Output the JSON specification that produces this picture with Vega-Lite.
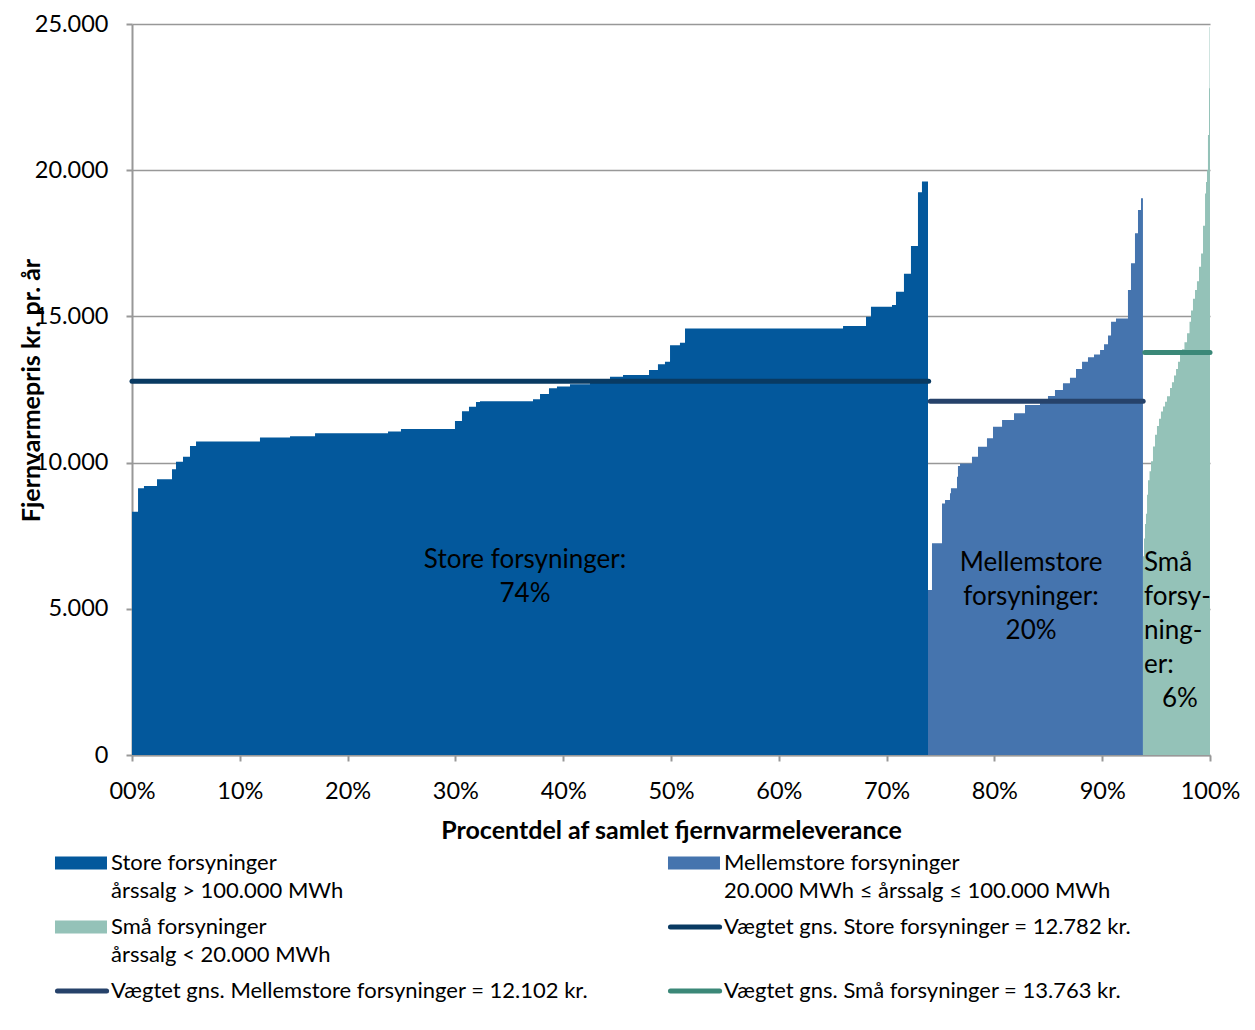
{
  "$schema": "https://vega.github.io/schema/vega-lite/v6.json",
  "width": 1078,
  "height": 731,
  "autosize": {"type": "none"},
  "padding": {"left": 132, "top": 24, "right": 45, "bottom": 275},
  "background": "white",
  "config": {
    "font": "Lato",
    "view": {"stroke": null},
    "text": {"lineBreak": "\n"}
  },
  "datasets": {
    "steps": [
      {"serie": "Store forsyninger|årssalg > 100.000 MWh", "x": 0, "y": 8320},
      {"serie": "Store forsyninger|årssalg > 100.000 MWh", "x": 0.56, "y": 9120},
      {"serie": "Store forsyninger|årssalg > 100.000 MWh", "x": 1.11, "y": 9200},
      {"serie": "Store forsyninger|årssalg > 100.000 MWh", "x": 2.32, "y": 9430},
      {"serie": "Store forsyninger|årssalg > 100.000 MWh", "x": 3.71, "y": 9770},
      {"serie": "Store forsyninger|årssalg > 100.000 MWh", "x": 4.08, "y": 10030},
      {"serie": "Store forsyninger|årssalg > 100.000 MWh", "x": 4.73, "y": 10200},
      {"serie": "Store forsyninger|årssalg > 100.000 MWh", "x": 5.38, "y": 10570},
      {"serie": "Store forsyninger|årssalg > 100.000 MWh", "x": 5.94, "y": 10720},
      {"serie": "Store forsyninger|årssalg > 100.000 MWh", "x": 11.87, "y": 10860},
      {"serie": "Store forsyninger|årssalg > 100.000 MWh", "x": 14.66, "y": 10900},
      {"serie": "Store forsyninger|årssalg > 100.000 MWh", "x": 16.98, "y": 11000},
      {"serie": "Store forsyninger|årssalg > 100.000 MWh", "x": 23.75, "y": 11060},
      {"serie": "Store forsyninger|årssalg > 100.000 MWh", "x": 24.95, "y": 11150},
      {"serie": "Store forsyninger|årssalg > 100.000 MWh", "x": 29.96, "y": 11420},
      {"serie": "Store forsyninger|årssalg > 100.000 MWh", "x": 30.61, "y": 11760},
      {"serie": "Store forsyninger|årssalg > 100.000 MWh", "x": 31.26, "y": 11910},
      {"serie": "Store forsyninger|årssalg > 100.000 MWh", "x": 31.91, "y": 12070},
      {"serie": "Store forsyninger|årssalg > 100.000 MWh", "x": 32.28, "y": 12100},
      {"serie": "Store forsyninger|årssalg > 100.000 MWh", "x": 37.2, "y": 12170},
      {"serie": "Store forsyninger|årssalg > 100.000 MWh", "x": 37.85, "y": 12350},
      {"serie": "Store forsyninger|årssalg > 100.000 MWh", "x": 38.68, "y": 12540},
      {"serie": "Store forsyninger|årssalg > 100.000 MWh", "x": 39.42, "y": 12600},
      {"serie": "Store forsyninger|årssalg > 100.000 MWh", "x": 40.63, "y": 12680},
      {"serie": "Store forsyninger|årssalg > 100.000 MWh", "x": 42.49, "y": 12740},
      {"serie": "Store forsyninger|årssalg > 100.000 MWh", "x": 44.34, "y": 12940},
      {"serie": "Store forsyninger|årssalg > 100.000 MWh", "x": 45.55, "y": 13000},
      {"serie": "Store forsyninger|årssalg > 100.000 MWh", "x": 47.96, "y": 13170},
      {"serie": "Store forsyninger|årssalg > 100.000 MWh", "x": 48.79, "y": 13360},
      {"serie": "Store forsyninger|årssalg > 100.000 MWh", "x": 49.44, "y": 13450},
      {"serie": "Store forsyninger|årssalg > 100.000 MWh", "x": 49.91, "y": 14010},
      {"serie": "Store forsyninger|årssalg > 100.000 MWh", "x": 50.83, "y": 14100},
      {"serie": "Store forsyninger|årssalg > 100.000 MWh", "x": 51.3, "y": 14590},
      {"serie": "Store forsyninger|årssalg > 100.000 MWh", "x": 65.96, "y": 14670},
      {"serie": "Store forsyninger|årssalg > 100.000 MWh", "x": 68.09, "y": 14990},
      {"serie": "Store forsyninger|årssalg > 100.000 MWh", "x": 68.55, "y": 15330},
      {"serie": "Store forsyninger|årssalg > 100.000 MWh", "x": 70.5, "y": 15390},
      {"serie": "Store forsyninger|årssalg > 100.000 MWh", "x": 70.87, "y": 15840},
      {"serie": "Store forsyninger|årssalg > 100.000 MWh", "x": 71.61, "y": 16460},
      {"serie": "Store forsyninger|årssalg > 100.000 MWh", "x": 72.26, "y": 17410},
      {"serie": "Store forsyninger|årssalg > 100.000 MWh", "x": 72.91, "y": 19250},
      {"serie": "Store forsyninger|årssalg > 100.000 MWh", "x": 73.28, "y": 19610},
      {"serie": "Store forsyninger|årssalg > 100.000 MWh", "x": 73.84, "y": 19610},
      {"serie": "Mellemstore forsyninger|20.000 MWh ≤ årssalg ≤ 100.000 MWh", "x": 73.84, "y": 5640},
      {"serie": "Mellemstore forsyninger|20.000 MWh ≤ årssalg ≤ 100.000 MWh", "x": 74.21, "y": 7240},
      {"serie": "Mellemstore forsyninger|20.000 MWh ≤ årssalg ≤ 100.000 MWh", "x": 75.14, "y": 8600},
      {"serie": "Mellemstore forsyninger|20.000 MWh ≤ årssalg ≤ 100.000 MWh", "x": 75.42, "y": 8720},
      {"serie": "Mellemstore forsyninger|20.000 MWh ≤ årssalg ≤ 100.000 MWh", "x": 75.88, "y": 8950},
      {"serie": "Mellemstore forsyninger|20.000 MWh ≤ årssalg ≤ 100.000 MWh", "x": 75.97, "y": 9120},
      {"serie": "Mellemstore forsyninger|20.000 MWh ≤ årssalg ≤ 100.000 MWh", "x": 76.53, "y": 9520},
      {"serie": "Mellemstore forsyninger|20.000 MWh ≤ årssalg ≤ 100.000 MWh", "x": 76.62, "y": 9880},
      {"serie": "Mellemstore forsyninger|20.000 MWh ≤ årssalg ≤ 100.000 MWh", "x": 76.81, "y": 9970},
      {"serie": "Mellemstore forsyninger|20.000 MWh ≤ årssalg ≤ 100.000 MWh", "x": 77.92, "y": 10200},
      {"serie": "Mellemstore forsyninger|20.000 MWh ≤ årssalg ≤ 100.000 MWh", "x": 78.48, "y": 10540},
      {"serie": "Mellemstore forsyninger|20.000 MWh ≤ årssalg ≤ 100.000 MWh", "x": 79.31, "y": 10830},
      {"serie": "Mellemstore forsyninger|20.000 MWh ≤ årssalg ≤ 100.000 MWh", "x": 79.87, "y": 11230},
      {"serie": "Mellemstore forsyninger|20.000 MWh ≤ årssalg ≤ 100.000 MWh", "x": 80.71, "y": 11460},
      {"serie": "Mellemstore forsyninger|20.000 MWh ≤ årssalg ≤ 100.000 MWh", "x": 81.82, "y": 11690},
      {"serie": "Mellemstore forsyninger|20.000 MWh ≤ årssalg ≤ 100.000 MWh", "x": 82.84, "y": 11970},
      {"serie": "Mellemstore forsyninger|20.000 MWh ≤ årssalg ≤ 100.000 MWh", "x": 84.23, "y": 12160},
      {"serie": "Mellemstore forsyninger|20.000 MWh ≤ årssalg ≤ 100.000 MWh", "x": 84.97, "y": 12280},
      {"serie": "Mellemstore forsyninger|20.000 MWh ≤ årssalg ≤ 100.000 MWh", "x": 85.62, "y": 12480},
      {"serie": "Mellemstore forsyninger|20.000 MWh ≤ årssalg ≤ 100.000 MWh", "x": 86.36, "y": 12710},
      {"serie": "Mellemstore forsyninger|20.000 MWh ≤ årssalg ≤ 100.000 MWh", "x": 87.01, "y": 12900},
      {"serie": "Mellemstore forsyninger|20.000 MWh ≤ årssalg ≤ 100.000 MWh", "x": 87.57, "y": 13200},
      {"serie": "Mellemstore forsyninger|20.000 MWh ≤ årssalg ≤ 100.000 MWh", "x": 88.13, "y": 13450},
      {"serie": "Mellemstore forsyninger|20.000 MWh ≤ årssalg ≤ 100.000 MWh", "x": 88.68, "y": 13600},
      {"serie": "Mellemstore forsyninger|20.000 MWh ≤ årssalg ≤ 100.000 MWh", "x": 89.24, "y": 13700},
      {"serie": "Mellemstore forsyninger|20.000 MWh ≤ årssalg ≤ 100.000 MWh", "x": 89.8, "y": 13850},
      {"serie": "Mellemstore forsyninger|20.000 MWh ≤ årssalg ≤ 100.000 MWh", "x": 90.17, "y": 14050},
      {"serie": "Mellemstore forsyninger|20.000 MWh ≤ årssalg ≤ 100.000 MWh", "x": 90.54, "y": 14350},
      {"serie": "Mellemstore forsyninger|20.000 MWh ≤ årssalg ≤ 100.000 MWh", "x": 90.82, "y": 14820},
      {"serie": "Mellemstore forsyninger|20.000 MWh ≤ årssalg ≤ 100.000 MWh", "x": 91.28, "y": 14930},
      {"serie": "Mellemstore forsyninger|20.000 MWh ≤ årssalg ≤ 100.000 MWh", "x": 92.39, "y": 15900},
      {"serie": "Mellemstore forsyninger|20.000 MWh ≤ årssalg ≤ 100.000 MWh", "x": 92.67, "y": 16820},
      {"serie": "Mellemstore forsyninger|20.000 MWh ≤ årssalg ≤ 100.000 MWh", "x": 93.04, "y": 17840},
      {"serie": "Mellemstore forsyninger|20.000 MWh ≤ årssalg ≤ 100.000 MWh", "x": 93.32, "y": 18640},
      {"serie": "Mellemstore forsyninger|20.000 MWh ≤ årssalg ≤ 100.000 MWh", "x": 93.6, "y": 19040},
      {"serie": "Mellemstore forsyninger|20.000 MWh ≤ årssalg ≤ 100.000 MWh", "x": 93.78, "y": 19040},
      {"serie": "Små forsyninger|årssalg < 20.000 MWh", "x": 93.78, "y": 6800},
      {"serie": "Små forsyninger|årssalg < 20.000 MWh", "x": 93.88, "y": 7400},
      {"serie": "Små forsyninger|årssalg < 20.000 MWh", "x": 93.97, "y": 7900},
      {"serie": "Små forsyninger|årssalg < 20.000 MWh", "x": 94.06, "y": 8250},
      {"serie": "Små forsyninger|årssalg < 20.000 MWh", "x": 94.16, "y": 8900},
      {"serie": "Små forsyninger|årssalg < 20.000 MWh", "x": 94.25, "y": 9400},
      {"serie": "Små forsyninger|årssalg < 20.000 MWh", "x": 94.39, "y": 9700},
      {"serie": "Små forsyninger|årssalg < 20.000 MWh", "x": 94.53, "y": 10050},
      {"serie": "Små forsyninger|årssalg < 20.000 MWh", "x": 94.71, "y": 10550},
      {"serie": "Små forsyninger|årssalg < 20.000 MWh", "x": 94.9, "y": 10950},
      {"serie": "Små forsyninger|årssalg < 20.000 MWh", "x": 95.08, "y": 11250},
      {"serie": "Små forsyninger|årssalg < 20.000 MWh", "x": 95.27, "y": 11500},
      {"serie": "Små forsyninger|årssalg < 20.000 MWh", "x": 95.45, "y": 11750},
      {"serie": "Små forsyninger|årssalg < 20.000 MWh", "x": 95.64, "y": 11920},
      {"serie": "Små forsyninger|årssalg < 20.000 MWh", "x": 95.83, "y": 12080},
      {"serie": "Små forsyninger|årssalg < 20.000 MWh", "x": 96.01, "y": 12270},
      {"serie": "Små forsyninger|årssalg < 20.000 MWh", "x": 96.29, "y": 12550},
      {"serie": "Små forsyninger|årssalg < 20.000 MWh", "x": 96.47, "y": 12750},
      {"serie": "Små forsyninger|årssalg < 20.000 MWh", "x": 96.66, "y": 12980},
      {"serie": "Små forsyninger|årssalg < 20.000 MWh", "x": 96.85, "y": 13200},
      {"serie": "Små forsyninger|årssalg < 20.000 MWh", "x": 97.03, "y": 13450},
      {"serie": "Små forsyninger|årssalg < 20.000 MWh", "x": 97.22, "y": 13680},
      {"serie": "Små forsyninger|årssalg < 20.000 MWh", "x": 97.4, "y": 13880},
      {"serie": "Små forsyninger|årssalg < 20.000 MWh", "x": 97.63, "y": 14120},
      {"serie": "Små forsyninger|årssalg < 20.000 MWh", "x": 97.87, "y": 14420},
      {"serie": "Små forsyninger|årssalg < 20.000 MWh", "x": 98.1, "y": 14820},
      {"serie": "Små forsyninger|årssalg < 20.000 MWh", "x": 98.24, "y": 15200},
      {"serie": "Små forsyninger|årssalg < 20.000 MWh", "x": 98.42, "y": 15600},
      {"serie": "Små forsyninger|årssalg < 20.000 MWh", "x": 98.61, "y": 15900},
      {"serie": "Små forsyninger|årssalg < 20.000 MWh", "x": 98.79, "y": 16200},
      {"serie": "Små forsyninger|årssalg < 20.000 MWh", "x": 98.98, "y": 16700},
      {"serie": "Små forsyninger|årssalg < 20.000 MWh", "x": 99.17, "y": 17150},
      {"serie": "Små forsyninger|årssalg < 20.000 MWh", "x": 99.35, "y": 18100},
      {"serie": "Små forsyninger|årssalg < 20.000 MWh", "x": 99.54, "y": 19200},
      {"serie": "Små forsyninger|årssalg < 20.000 MWh", "x": 99.63, "y": 19600},
      {"serie": "Små forsyninger|årssalg < 20.000 MWh", "x": 99.72, "y": 20000},
      {"serie": "Små forsyninger|årssalg < 20.000 MWh", "x": 99.81, "y": 21200},
      {"serie": "Små forsyninger|årssalg < 20.000 MWh", "x": 99.91, "y": 22800},
      {"serie": "Små forsyninger|årssalg < 20.000 MWh", "x": 99.96, "y": 24900},
      {"serie": "Små forsyninger|årssalg < 20.000 MWh", "x": 100, "y": 24900}
    ],
    "avg": [
      {"serie": "Vægtet gns. Store forsyninger = 12.782 kr.|\u00a0", "x": 0, "x2": 73.9, "y": 12782},
      {"serie": "Vægtet gns. Mellemstore forsyninger = 12.102 kr.|\u00a0", "x": 74.05, "x2": 93.8, "y": 12102},
      {"serie": "Vægtet gns. Små forsyninger = 13.763 kr.|\u00a0", "x": 93.95, "x2": 100, "y": 13763}
    ],
    "notes": [
      {"x": 36.46, "y": 7110, "text": "Store forsyninger:\n74%", "grp": "c"},
      {"x": 83.4, "y": 7010, "text": "Mellemstore\nforsyninger:\n20%", "grp": "c"},
      {"x": 93.88, "y": 7010, "text": "Små\nforsy-\nning-\ner:", "grp": "l"},
      {"x": 95.55, "y": 2360, "text": "6%", "grp": "l"}
    ]
  },
  "encoding": {
    "x": {
      "field": "x", "type": "quantitative",
      "scale": {"domain": [0, 100], "nice": false, "zero": false},
      "axis": {
        "values": [0, 10, 20, 30, 40, 50, 60, 70, 80, 90, 100],
        "labelExpr": "datum.value === 0 ? '00%' : datum.value + '%'",
        "title": "Procentdel af samlet fjernvarmeleverance",
        "titleFont": "Lato", "titleFontSize": 25, "titleFontWeight": "bold", "titleColor": "#000000",
        "titlePadding": 16,
        "labelFont": "Lato", "labelFontSize": 23.5, "labelColor": "#000000", "labelPadding": 18,
        "labelFlush": false,
        "domainColor": "#989898", "domainWidth": 2,
        "tickColor": "#989898", "tickWidth": 2, "tickSize": 6,
        "grid": false
      }
    },
    "y": {
      "field": "y", "type": "quantitative",
      "scale": {"domain": [0, 25000], "nice": false},
      "axis": {
        "values": [0, 5000, 10000, 15000, 20000, 25000],
        "labelExpr": "replace(format(datum.value, ','), ',', '.')",
        "title": "Fjernvarmepris kr. pr. år",
        "titleFont": "Lato", "titleFontSize": 25, "titleFontWeight": "bold", "titleColor": "#000000",
        "titleX": -101, "titleY": 366, "titleBaseline": "middle",
        "labelFont": "Lato", "labelFontSize": 23.5, "labelColor": "#000000", "labelPadding": 18,
        "domainColor": "#989898", "domainWidth": 2,
        "tickColor": "#989898", "tickWidth": 2, "tickSize": 6,
        "grid": true, "gridColor": "#989898", "gridWidth": 1.5
      }
    }
  },
  "layer": [
    {
      "data": {"name": "steps"},
      "mark": {"type": "area", "interpolate": "step-after"},
      "encoding": {
        "y": {"field": "y", "type": "quantitative", "stack": null},
        "color": {
          "field": "serie", "type": "nominal",
          "scale": {
            "domain": [
              "Store forsyninger|årssalg > 100.000 MWh",
              "Mellemstore forsyninger|20.000 MWh ≤ årssalg ≤ 100.000 MWh",
              "Små forsyninger|årssalg < 20.000 MWh",
              "Vægtet gns. Store forsyninger = 12.782 kr.|\u00a0",
              "Vægtet gns. Mellemstore forsyninger = 12.102 kr.|\u00a0",
              "Vægtet gns. Små forsyninger = 13.763 kr.|\u00a0"
            ],
            "range": ["#03589C", "#4574AE", "#94C2B8", "#093A62", "#26426A", "#3B8878"]
          },
          "legend": {
            "orient": "none",
            "direction": "horizontal",
            "legendX": -78,
            "legendY": 828,
            "columns": 2,
            "columnPadding": 71,
            "rowPadding": 14,
            "title": null,
            "labelFont": "Lato",
            "labelFontSize": 22,
            "labelColor": "#000000",
            "labelLimit": 800,
            "labelOffset": 35,
            "labelExpr": "split(datum.label, '|')",
            "encode": {
              "labels": {"update": {"lineHeight": {"value": 28}}},
              "symbols": {
                "update": {
                  "shape": {"signal": "datum.index < 3 ? 'M-0.385,-0.25H1.615V0.25H-0.385Z' : 'M-0.29,0H1.6'"},
                  "fill": {"signal": "datum.index < 3 ? scale('color', datum.value) : 'transparent'"},
                  "stroke": {"signal": "scale('color', datum.value)"},
                  "strokeWidth": {"signal": "datum.index < 3 ? 0 : 5"},
                  "strokeCap": {"value": "round"},
                  "size": {"value": 2704},
                  "opacity": {"value": 1}
                }
              }
            }
          }
        }
      }
    },
    {
      "data": {"name": "avg"},
      "mark": {"type": "rule", "strokeWidth": 5, "strokeCap": "round"},
      "encoding": {
        "x2": {"field": "x2"},
        "color": {"field": "serie", "type": "nominal"}
      }
    },
    {
      "data": {"name": "notes"},
      "transform": [{"filter": "datum.grp === 'c'"}],
      "mark": {"type": "text", "align": "center", "baseline": "top", "fontSize": 26, "lineHeight": 34, "font": "Lato", "color": "#000000"},
      "encoding": {"text": {"field": "text"}}
    },
    {
      "data": {"name": "notes"},
      "transform": [{"filter": "datum.grp === 'l'"}],
      "mark": {"type": "text", "align": "left", "baseline": "top", "fontSize": 26, "lineHeight": 34, "font": "Lato", "color": "#000000"},
      "encoding": {"text": {"field": "text"}}
    }
  ]
}
